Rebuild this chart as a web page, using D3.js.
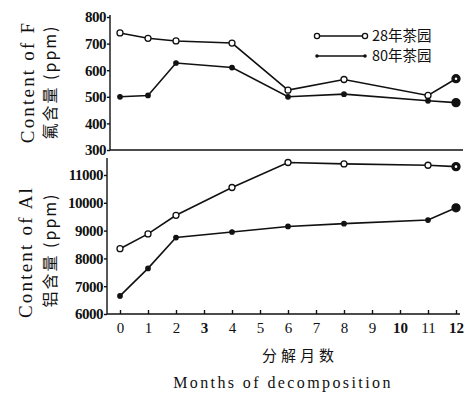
<!DOCTYPE html>
<html>
<head>
<meta charset="utf-8">
<script src="https://cdn.jsdelivr.net/npm/d3@7"></script>
<style>
body { margin: 0; background: #fff; }
svg text { font-family: "Liberation Serif", "DejaVu Serif", serif; fill: #111; }
svg text.cjk { font-family: "Noto Sans CJK SC", sans-serif; }
</style>
</head>
<body>
<div id="chart"></div>
<script>
// months sampled
var months = [0, 1, 2, 4, 6, 8, 11, 12];
var xTicks = [0, 1, 2, 3, 4, 5, 6, 7, 8, 9, 10, 11, 12];

// fluorine content (ppm)
var f28 = [740, 720, 710, 702, 525, 565, 505, 568];
var f80 = [500, 505, 627, 610, 500, 510, 485, 478];

// aluminium content (ppm)
var al28 = [8350, 8880, 9550, 10550, 11450, 11400, 11350, 11300];
var al80 = [6650, 7640, 8750, 8950, 9150, 9250, 9380, 9820];

var fTicks = [300, 400, 500, 600, 700, 800];
var alTicks = [6000, 7000, 8000, 9000, 10000, 11000];

var legendLabels = ["28年茶园", "80年茶园"];

var W = 467, H = 397;
var svg = d3.select("#chart").append("svg").attr("width", W).attr("height", H);

var x = d3.scaleLinear().domain([0, 12]).range([120, 456]);
var yF = d3.scaleLinear().domain([300, 800]).range([150, 17]);
var yAl = d3.scaleLinear().domain([6000, 11000]).range([314, 175]);

// top panel axes
var gF = svg.append("g").attr("transform", "translate(110,0)")
	.call(d3.axisLeft(yF).tickValues(fTicks).tickSize(3).tickPadding(1).tickFormat(d3.format("d")));
svg.append("line").attr("x1", 110).attr("x2", 463).attr("y1", 150).attr("y2", 150)
	.attr("stroke", "#111").attr("stroke-width", 1.6);

// bottom panel axes
var gAl = svg.append("g").attr("transform", "translate(107,0)")
	.call(d3.axisLeft(yAl).tickValues(alTicks).tickSize(3).tickPadding(1).tickFormat(d3.format("d")));
gAl.select(".domain").attr("d", "M0,158V314");
gF.select(".domain").attr("d", "M0,15V150");

var gx = svg.append("g").attr("transform", "translate(0,314)")
	.call(d3.axisTop(x).tickValues(xTicks).tickSize(4).tickFormat(""));
gx.select(".domain").attr("d", "M107,0H460");
gx.selectAll(".tick").append("text")
	.attr("y", 19).attr("text-anchor", "middle")
	.attr("font-size", 15).attr("font-weight", function(d){ return (d == 3 || d == 10 || d == 12) ? "bold" : "normal"; })
	.text(function(d){ return d; });

[gF, gAl, gx].forEach(function(g){
	g.attr("font-family", "Liberation Serif");
	g.selectAll("path, line").attr("stroke", "#111").attr("stroke-width", 1.4);
});
[gF, gAl].forEach(function(g){
	g.attr("font-size", 15).attr("font-weight", "bold");
	g.selectAll("text").attr("fill", "#111").attr("letter-spacing", -0.5);
});

// lines and markers
function drawSeries(vals, y, open) {
	var line = d3.line().x(function(d, i){ return x(months[i]); }).y(function(d){ return y(d); });
	svg.append("path").datum(vals).attr("d", line)
		.attr("fill", "none").attr("stroke", "#111").attr("stroke-width", 1.6);
	svg.append("g").selectAll("circle").data(vals).join("circle")
		.attr("cx", function(d, i){ return x(months[i]); })
		.attr("cy", function(d){ return y(d); })
		.attr("r", function(d, i){ return months[i] == 12 ? 4 : (open ? 3 : 2.2); })
		.attr("fill", function(d, i){ return open && months[i] != 12 ? "#fff" : "#111"; })
		.attr("stroke", "#111").attr("stroke-width", 1.3);
	if (open) {
		svg.append("circle").attr("cx", x(12)).attr("cy", y(vals[vals.length - 1]))
			.attr("r", 1.3).attr("fill", "#fff");
	}
}
drawSeries(f28, yF, true);
drawSeries(f80, yF, false);
drawSeries(al28, yAl, true);
drawSeries(al80, yAl, false);

// legend
var leg = svg.append("g");
legendLabels.forEach(function(lab, i){
	var ly = 36 + i * 20;
	leg.append("line").attr("x1", 317).attr("x2", 365).attr("y1", ly).attr("y2", ly)
		.attr("stroke", "#111").attr("stroke-width", 1.4);
	if (i == 0) {
		[317, 365].forEach(function(cx){
			leg.append("circle").attr("cx", cx).attr("cy", ly).attr("r", 2.6)
				.attr("fill", "#fff").attr("stroke", "#111").attr("stroke-width", 1.3);
		});
	} else {
		[317, 365].forEach(function(cx){
			leg.append("circle").attr("cx", cx).attr("cy", ly).attr("r", 1.8).attr("fill", "#111");
		});
	}
	leg.append("text").attr("x", 372).attr("y", ly + 5).attr("font-size", 14.5)
		.attr("class", "cjk").text(lab);
});

// y labels
function yLabel(cx, cy, txt, size, cjk, sp) {
	svg.append("text").attr("transform", "translate(" + cx + "," + cy + ") rotate(-90)")
		.attr("text-anchor", "middle").attr("font-size", size).attr("letter-spacing", sp)
		.attr("class", cjk ? "cjk" : null).text(txt);
}
yLabel(34, 82, "Content of F", 19, false, 2.2);
yLabel(56, 82, "氟含量 (ppm)", 16, true, 2);
yLabel(32, 252, "Content of Al", 19, false, 2.2);
yLabel(56, 250, "铝含量 (ppm)", 16, true, 2);

// x labels
svg.append("text").attr("x", 300).attr("y", 361).attr("text-anchor", "middle")
	.attr("font-size", 15).attr("class", "cjk").attr("letter-spacing", 4).text("分解月数");
svg.append("text").attr("x", 283).attr("y", 388).attr("text-anchor", "middle")
	.attr("font-size", 16).attr("letter-spacing", 2.4).text("Months of decomposition");
</script>
</body>
</html>
